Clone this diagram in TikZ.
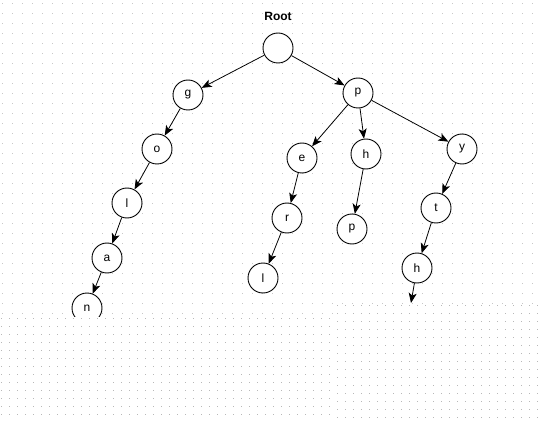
\documentclass[tikz,border=0pt]{standalone}
\usepackage{fontspec}
\setmainfont{Liberation Sans}
\usetikzlibrary{arrows.meta}
\begin{document}
\begin{tikzpicture}[x=1pt,y=-1pt,
  tnode/.style={circle,draw,line width=0.9pt,minimum size=30pt,inner sep=0pt,font=\fontsize{12}{14}\selectfont,fill=white},
  edge/.style={-{Stealth[length=10pt,width=8pt,inset=2.5pt]},line width=0.8pt},
  gdot/.style={fill=black!22},
  ddot/.style={fill=black!28}]
\useasboundingbox (0,0) rectangle (538,422);
\fill[white] (0,0) rectangle (538,422);
\foreach \i in {0,...,53} \foreach \j in {0,...,31} {\fill[gdot] (\i*10+2,\j*10+3) rectangle +(1,1);}
% title
\node[font=\bfseries\fontsize{12}{14}\selectfont] (title) at (278,16) {Root};
% nodes
\node[tnode] (root) at (278,48) {};
\node[tnode] (g) at (188,95) {g};
\node[tnode] (p) at (358,93) {p};
\node[tnode] (o) at (157,149) {o};
\node[tnode] (l1) at (127,203) {l};
\node[tnode] (a) at (107,258) {a};
\node[tnode] (n) at (87,308) {n};
\node[tnode] (e) at (302,158) {e};
\node[tnode] (h1) at (366,154) {h};
\node[tnode] (y) at (462,149) {y};
\node[tnode] (r) at (287,218) {r};
\node[tnode] (l2) at (263,278) {l};
\node[tnode] (p2) at (352,229) {p};
\node[tnode] (t) at (436,208) {t};
\node[tnode] (h2) at (417,268) {h};
\coordinate (end) at (411,303);
% edges
\draw[edge] (root) -- (g);
\draw[edge] (root) -- (p);
\draw[edge] (g) -- (o);
\draw[edge] (o) -- (l1);
\draw[edge] (l1) -- (a);
\draw[edge] (a) -- (n);
\draw[edge] (p) -- (e);
\draw[edge] (p) -- (h1);
\draw[edge] (p) -- (y);
\draw[edge] (e) -- (r);
\draw[edge] (r) -- (l2);
\draw[edge] (h1) -- (p2);
\draw[edge] (y) -- (t);
\draw[edge] (t) -- (h2);
\draw[edge] (h2) -- (end);
% lower pasted area
\fill[white] (0,317) rectangle (336,422);
\fill[white] (336,304) rectangle (538,422);
\foreach \i in {0,...,41} \foreach \j in {0,...,13} {\fill[ddot] (\i*8+1,\j*8+318) rectangle +(1.2,1.2);}
\foreach \i in {0,...,25} \foreach \j in {0,...,14} {\fill[ddot] (\i*8+337,\j*8+305) rectangle +(1.2,1.2);}
\end{tikzpicture}
\end{document}
